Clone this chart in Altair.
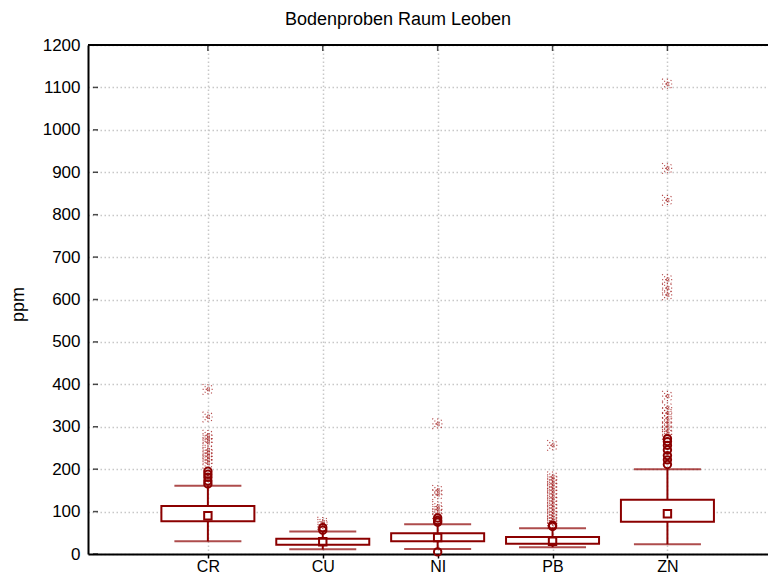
import json
import altair as alt
import pandas as pd

CATEGORIES = ["CR", "CU", "NI", "PB", "ZN"]
Q1 = [77, 22, 30, 24, 76]
Q3 = [113, 36, 49, 40, 128]
MEDIAN = [90, 29, 39, 30, 95]
WHISK_LO = [30, 11, 12, 16, 23]
WHISK_HI = [161, 53, 70, 61, 200]

OUT_CR = [165, 172, 181, 188, 195]
OUT_CU = [56, 62]
OUT_NI = [5, 75, 79, 85]
OUT_PB = [65, 68]
OUT_ZN = [211, 222, 232, 245, 256, 265, 272]

EXT_CR = [388, 323, 280, 272, 263, 245, 238, 230, 222, 214]
EXT_CU = [70, 75]
EXT_NI = [95, 105, 112, 140, 150, 307]
EXT_PB = [256, 182, 175, 166, 158, 150, 142, 133, 125, 116, 108, 100, 92, 85, 78, 72]
EXT_ZN = [282, 290, 300, 310, 320, 332, 345, 372, 611, 627, 647, 834, 909, 1108]

Y_TICKS = list(range(0, 1300, 100))

TITLE = "Bodenproben Raum Leoben"
Y_TITLE = "ppm"

COLOR = "#8b0000"
EXT_COLOR = "#a82a2a"
GRID = "#c8c8c8"
FONT = "Liberation Sans"

pos = list(range(1, len(CATEGORIES) + 1))
box_df = pd.DataFrame({
    "cat": CATEGORIES, "pos": pos, "q1": Q1, "q3": Q3, "med": MEDIAN,
    "lo": WHISK_LO, "hi": WHISK_HI,
})

out_rows, ext_rows = [], []
for p, o, e in zip(pos, [OUT_CR, OUT_CU, OUT_NI, OUT_PB, OUT_ZN],
                   [EXT_CR, EXT_CU, EXT_NI, EXT_PB, EXT_ZN]):
    out_rows += [{"pos": p, "v": v} for v in o]
    ext_rows += [{"pos": p, "v": v} for v in e]
out_df = pd.DataFrame(out_rows)
ext_df = pd.DataFrame(ext_rows)
ytick_df = pd.DataFrame({"v": Y_TICKS})

W, H = 680, 509
STEP = 116.6
XMAX = W / STEP

label_expr = json.dumps(CATEGORIES) + "[datum.value - 1]"

x_scale = alt.Scale(domain=[0, XMAX], nice=False, zero=False)
y_scale = alt.Scale(domain=[0, 1200], nice=False)

x_axis = alt.Axis(
    values=pos, labelExpr=label_expr, title=None,
    grid=True, gridColor=GRID, gridDash=[1.5, 2.5], gridWidth=1.5,
    domainColor="black", domainWidth=2, tickColor="black", tickSize=4, tickWidth=1.5,
    labelFont=FONT, labelFontSize=16, labelColor="black", labelPadding=0,
)
y_axis = alt.Axis(
    values=Y_TICKS, title=Y_TITLE, format="d",
    grid=True, gridColor=GRID, gridDash=[1.5, 2.5], gridWidth=1.5,
    domainColor="black", domainWidth=2, ticks=False, tickSize=0,
    labelFont=FONT, labelFontSize=17, labelColor="black", labelPadding=8,
    titleFont=FONT, titleFontSize=18, titleFontWeight="normal", titleColor="black",
    titleX=-70, titleY=259, titleAngle=-90, titleAlign="center", titleBaseline="middle",
)

X = alt.X("pos:Q", scale=x_scale, axis=x_axis)
base = alt.Chart(box_df)

whisker = base.mark_rule(color=COLOR, strokeWidth=2).encode(
    x=X, y=alt.Y("lo:Q", scale=y_scale, axis=y_axis), y2="hi:Q")
cap_lo = base.mark_tick(orient="horizontal", size=67, thickness=2, color=COLOR).encode(
    x="pos:Q", y="lo:Q")
cap_hi = base.mark_tick(orient="horizontal", size=67, thickness=2, color=COLOR).encode(
    x="pos:Q", y="hi:Q")
box = base.mark_bar(size=93, fill="white", stroke=COLOR, strokeWidth=2).encode(
    x="pos:Q", y="q1:Q", y2="q3:Q")
med = base.mark_point(shape="square", filled=False, size=55, strokeWidth=2, color=COLOR,
                      opacity=1).encode(x="pos:Q", y="med:Q")

star = "M-1,-1L1,1M-1,1L1,-1M0,-1L0,1M-1,0L1,0"
ext = alt.Chart(ext_df).mark_point(shape=star, filled=False, size=110, strokeWidth=1.2,
                                   strokeDash=[1, 2], color=EXT_COLOR, opacity=0.9).encode(
    x="pos:Q", y="v:Q")
out = alt.Chart(out_df).mark_point(shape="circle", filled=False, size=55, strokeWidth=2,
                                   color=COLOR, opacity=1).encode(x="pos:Q", y="v:Q")

top_rule = base.mark_rule(color="black", strokeWidth=2).encode(
    y=alt.datum(1200), x=alt.value(0), x2=alt.value(W))
top_ticks = base.mark_tick(orient="vertical", size=6, thickness=1.5, color="black",
                           yOffset=3).encode(x="pos:Q", y=alt.datum(1200))
left_ticks = alt.Chart(ytick_df).mark_tick(orient="horizontal", size=5, thickness=1.5,
                                           color="black", xOffset=2.5).encode(
    x=alt.X(datum=0), y="v:Q")

chart = alt.layer(
    whisker, cap_lo, cap_hi, box, med, ext, out, top_rule, top_ticks, left_ticks
).properties(
    width=W, height=H,
    title=alt.TitleParams(TITLE, font=FONT, fontSize=18, fontWeight="normal",
                          color="black", dx=-30, offset=7),
    autosize=alt.AutoSizeParams(type="none"),
    padding={"left": 80, "top": 37, "right": 0, "bottom": 24},
).configure_view(strokeWidth=0)

chart.save("out.html", embed_options={"renderer": "svg", "actions": False})
